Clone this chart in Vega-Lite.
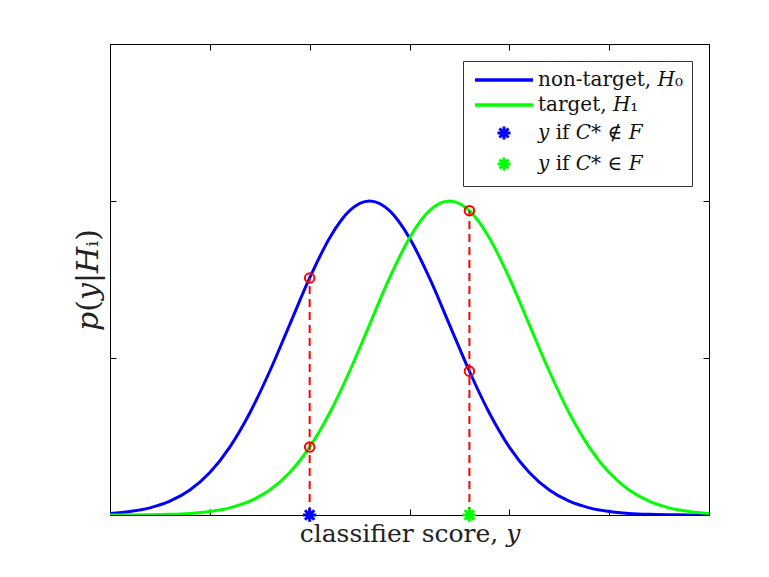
{
  "$schema": "https://vega.github.io/schema/vega-lite/v6.json",
  "autosize": "none",
  "width": 599,
  "height": 471,
  "padding": {"left": 110, "top": 44, "right": 60, "bottom": 62},
  "background": "white",
  "config": {
    "view": {"stroke": "black", "strokeWidth": 1},
    "font": "DejaVu Serif",
    "axis": {
      "grid": false,
      "labels": false,
      "domainColor": "black",
      "tickColor": "black",
      "tickSize": -6,
      "titleFont": "DejaVu Serif",
      "titleFontWeight": "normal",
      "titleColor": "#222222"
    },
    "legend": {
      "orient": "top-right",
      "offset": 17,
      "padding": 9,
      "strokeColor": "#333333",
      "fillColor": "white",
      "labelFont": "DejaVu Serif",
      "labelFontSize": 20,
      "labelColor": "#111111",
      "rowPadding": 5,
      "labelOffset": 46,
      "title": null
    }
  },
  "datasets": {
    "curves": [
      {"x": 0.0, "p": 0.0051, "s": "non-target, 𝐻₀"},
      {"x": 0.2, "p": 0.0111, "s": "non-target, 𝐻₀"},
      {"x": 0.4, "p": 0.0228, "s": "non-target, 𝐻₀"},
      {"x": 0.6, "p": 0.0439, "s": "non-target, 𝐻₀"},
      {"x": 0.8, "p": 0.0796, "s": "non-target, 𝐻₀"},
      {"x": 1.0, "p": 0.1353, "s": "non-target, 𝐻₀"},
      {"x": 1.2, "p": 0.2163, "s": "non-target, 𝐻₀"},
      {"x": 1.4, "p": 0.3247, "s": "non-target, 𝐻₀"},
      {"x": 1.6, "p": 0.4578, "s": "non-target, 𝐻₀"},
      {"x": 1.8, "p": 0.6065, "s": "non-target, 𝐻₀"},
      {"x": 2.0, "p": 0.7548, "s": "non-target, 𝐻₀"},
      {"x": 2.2, "p": 0.8825, "s": "non-target, 𝐻₀"},
      {"x": 2.4, "p": 0.9692, "s": "non-target, 𝐻₀"},
      {"x": 2.6, "p": 1.0, "s": "non-target, 𝐻₀"},
      {"x": 2.8, "p": 0.9692, "s": "non-target, 𝐻₀"},
      {"x": 3.0, "p": 0.8825, "s": "non-target, 𝐻₀"},
      {"x": 3.2, "p": 0.7548, "s": "non-target, 𝐻₀"},
      {"x": 3.4, "p": 0.6065, "s": "non-target, 𝐻₀"},
      {"x": 3.6, "p": 0.4578, "s": "non-target, 𝐻₀"},
      {"x": 3.8, "p": 0.3247, "s": "non-target, 𝐻₀"},
      {"x": 4.0, "p": 0.2163, "s": "non-target, 𝐻₀"},
      {"x": 4.2, "p": 0.1353, "s": "non-target, 𝐻₀"},
      {"x": 4.4, "p": 0.0796, "s": "non-target, 𝐻₀"},
      {"x": 4.6, "p": 0.0439, "s": "non-target, 𝐻₀"},
      {"x": 4.8, "p": 0.0228, "s": "non-target, 𝐻₀"},
      {"x": 5.0, "p": 0.0111, "s": "non-target, 𝐻₀"},
      {"x": 5.2, "p": 0.0051, "s": "non-target, 𝐻₀"},
      {"x": 5.4, "p": 0.0022, "s": "non-target, 𝐻₀"},
      {"x": 5.6, "p": 0.0009, "s": "non-target, 𝐻₀"},
      {"x": 5.8, "p": 0.0003, "s": "non-target, 𝐻₀"},
      {"x": 6.0, "p": 0.0001, "s": "non-target, 𝐻₀"},
      {"x": 0.0, "p": 0.0001, "s": "target, 𝐻₁"},
      {"x": 0.2, "p": 0.0003, "s": "target, 𝐻₁"},
      {"x": 0.4, "p": 0.0009, "s": "target, 𝐻₁"},
      {"x": 0.6, "p": 0.0022, "s": "target, 𝐻₁"},
      {"x": 0.8, "p": 0.0051, "s": "target, 𝐻₁"},
      {"x": 1.0, "p": 0.0111, "s": "target, 𝐻₁"},
      {"x": 1.2, "p": 0.0228, "s": "target, 𝐻₁"},
      {"x": 1.4, "p": 0.0439, "s": "target, 𝐻₁"},
      {"x": 1.6, "p": 0.0796, "s": "target, 𝐻₁"},
      {"x": 1.8, "p": 0.1353, "s": "target, 𝐻₁"},
      {"x": 2.0, "p": 0.2163, "s": "target, 𝐻₁"},
      {"x": 2.2, "p": 0.3247, "s": "target, 𝐻₁"},
      {"x": 2.4, "p": 0.4578, "s": "target, 𝐻₁"},
      {"x": 2.6, "p": 0.6065, "s": "target, 𝐻₁"},
      {"x": 2.8, "p": 0.7548, "s": "target, 𝐻₁"},
      {"x": 3.0, "p": 0.8825, "s": "target, 𝐻₁"},
      {"x": 3.2, "p": 0.9692, "s": "target, 𝐻₁"},
      {"x": 3.4, "p": 1.0, "s": "target, 𝐻₁"},
      {"x": 3.6, "p": 0.9692, "s": "target, 𝐻₁"},
      {"x": 3.8, "p": 0.8825, "s": "target, 𝐻₁"},
      {"x": 4.0, "p": 0.7548, "s": "target, 𝐻₁"},
      {"x": 4.2, "p": 0.6065, "s": "target, 𝐻₁"},
      {"x": 4.4, "p": 0.4578, "s": "target, 𝐻₁"},
      {"x": 4.6, "p": 0.3247, "s": "target, 𝐻₁"},
      {"x": 4.8, "p": 0.2163, "s": "target, 𝐻₁"},
      {"x": 5.0, "p": 0.1353, "s": "target, 𝐻₁"},
      {"x": 5.2, "p": 0.0796, "s": "target, 𝐻₁"},
      {"x": 5.4, "p": 0.0439, "s": "target, 𝐻₁"},
      {"x": 5.6, "p": 0.0228, "s": "target, 𝐻₁"},
      {"x": 5.8, "p": 0.0111, "s": "target, 𝐻₁"},
      {"x": 6.0, "p": 0.0051, "s": "target, 𝐻₁"}
    ],
    "drops": [
      {"x": 2.0, "bottom": 0, "top": 0.7548},
      {"x": 3.6, "bottom": 0, "top": 0.9692}
    ],
    "crossings": [
      {"x": 2.0, "p": 0.7548},
      {"x": 2.0, "p": 0.2163},
      {"x": 3.6, "p": 0.9692},
      {"x": 3.6, "p": 0.4578}
    ],
    "scores": [
      {"x": 2.0, "p": 0, "s": "𝑦 if 𝐶* ∉ 𝐹"},
      {"x": 3.6, "p": 0, "s": "𝑦 if 𝐶* ∈ 𝐹"}
    ]
  },
  "layer": [
    {
      "data": {"name": "curves"},
      "mark": {"type": "line", "strokeWidth": 3, "interpolate": "monotone", "clip": true},
      "encoding": {
        "x": {
          "field": "x", "type": "quantitative",
          "scale": {"domain": [0, 6], "nice": false, "zero": false},
          "axis": {"values": [0, 1, 2, 3, 4, 5, 6], "title": "classifier score, 𝑦", "titleFontSize": 25, "titlePadding": 6}
        },
        "y": {
          "field": "p", "type": "quantitative",
          "scale": {"domain": [0, 1.5], "nice": false},
          "axis": {"values": [0, 0.5, 1, 1.5], "title": "𝑝(𝑦|𝐻ᵢ)", "titleFontSize": 30, "titlePadding": 6}
        },
        "color": {
          "field": "s", "type": "nominal",
          "scale": {
            "domain": ["non-target, 𝐻₀", "target, 𝐻₁", "𝑦 if 𝐶* ∉ 𝐹", "𝑦 if 𝐶* ∈ 𝐹"],
            "range": ["#0000ff", "#00ff00", "#0000ff", "#00ff00"]
          },
          "legend": {
            "encode": {
              "symbols": {
                "update": {
                  "x": {"value": 32},
                  "shape": {"signal": "test(/target/, datum.value) ? 'stroke' : 'M-1,0L1,0M0,-1L0,1M-0.7,-0.7L0.7,0.7M-0.7,0.7L0.7,-0.7'"},
                  "size": {"signal": "test(/target/, datum.value) ? 3364 : 170"},
                  "strokeWidth": {"signal": "test(/target/, datum.value) ? 3.5 : 3"},
                  "fill": {"value": "transparent"}
                }
              }
            }
          }
        }
      }
    },
    {
      "data": {"name": "drops"},
      "mark": {"type": "rule", "color": "#ff0000", "strokeWidth": 2, "strokeDash": [8, 5]},
      "encoding": {
        "x": {"field": "x", "type": "quantitative", "axis": null},
        "y": {"field": "bottom", "type": "quantitative", "axis": null},
        "y2": {"field": "top"}
      }
    },
    {
      "data": {"name": "crossings"},
      "mark": {"type": "point", "shape": "circle", "filled": false, "color": "#ff0000", "strokeWidth": 2, "size": 90, "opacity": 1},
      "encoding": {
        "x": {
          "field": "x", "type": "quantitative",
          "axis": {"orient": "top", "values": [0, 1, 2, 3, 4, 5, 6], "title": null}
        },
        "y": {
          "field": "p", "type": "quantitative",
          "axis": {"orient": "right", "values": [0, 0.5, 1, 1.5], "title": null}
        }
      }
    },
    {
      "data": {"name": "scores"},
      "mark": {"type": "point", "shape": "M-1,0L1,0M0,-1L0,1M-0.7,-0.7L0.7,0.7M-0.7,0.7L0.7,-0.7", "filled": false, "strokeWidth": 3, "size": 180, "opacity": 1, "clip": false},
      "encoding": {
        "x": {"field": "x", "type": "quantitative", "axis": null},
        "y": {"field": "p", "type": "quantitative", "axis": null},
        "color": {"field": "s", "type": "nominal"}
      }
    }
  ],
  "resolve": {"axis": {"x": "independent", "y": "independent"}}
}
